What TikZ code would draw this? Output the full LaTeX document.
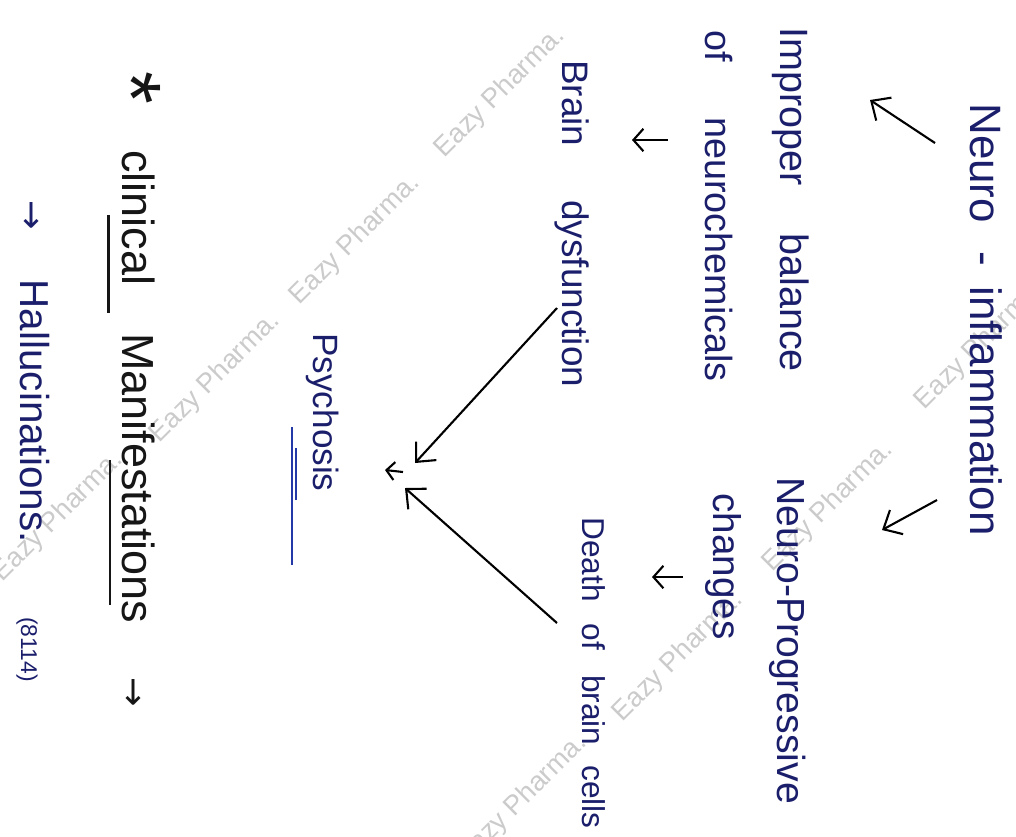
\documentclass[tikz,border=0pt]{standalone}
\usepackage{fontspec}
\setmainfont{Liberation Sans}
\newfontfamily\arrowfont{DejaVu Sans}
\usetikzlibrary{arrows.meta,calc}
\definecolor{ink}{HTML}{1B1F6B}
\definecolor{inkblack}{HTML}{161616}
\definecolor{underblue}{HTML}{2438A8}
\definecolor{stampgray}{HTML}{CBCBCB}

\begin{document}
\begin{tikzpicture}[
        x=0.02cm, y=0.02cm, rotate=-90, transform shape,
        note/.style={anchor=base west, inner sep=0pt, text=ink},
        arrow/.style={-{Straight Barb[length=3mm, width=5.5mm]}, line width=1.2pt},
        short/.style={-{Straight Barb[length=2mm, width=4.5mm]}, line width=1.2pt},
        stamp/.style={rotate=135, text=stampgray, font=\fontsize{15.5}{18}\selectfont}
    ]
    \useasboundingbox (0,0) rectangle (836,1016);
    \fill[white] (0,0) rectangle (836,1016);

    % watermark
    \foreach \u/\v in {93/500, 240/355, 378/215, 517/58, 345/980, 507/828, 657/678, 800/522}
        \node[stamp] at (\u,\v) {Eazy Pharma.};

    \node[note, font=\fontsize{25}{30}\selectfont] (infl) at (103,970) {Neuro\hspace{5.8mm}-\hspace{4mm}inflammation};
    \node[note, font=\fontsize{22.5}{27}\selectfont] (imbal) at (27,780) {Improper\hspace{9.6mm}balance};
    \node[note, font=\fontsize{21.5}{26}\selectfont] (neurochem) at (30,705) {of\hspace{11.1mm}neurochemicals};
    \node[note, font=\fontsize{22.3}{27}\selectfont] (prog) at (477,777) {Neuro-Progressive};
    \node[note, font=\fontsize{22}{27}\selectfont] (chg) at (493,713) {changes};
    \node[note, font=\fontsize{21}{25}\selectfont] (brain) at (60,562) {Brain\hspace{10.8mm}dysfunction};
    \node[note, font=\fontsize{18}{22}\selectfont] (death) at (517,582) {Death\hspace{4.4mm}of\hspace{5mm}brain\hspace{4mm}cells};
    \node[note, font=\fontsize{20}{24}\selectfont] (psych) at (333,313) {Psychosis};
    \node[inner sep=0pt, text=inkblack, font=\fontsize{48}{50}\selectfont] (star) at (88,132) {*};
    \node[note, text=inkblack, font=\fontsize{25.6}{30}\selectfont] (clin) at (150,122)
        {clinical\hspace{9.6mm}Manifestations\hspace{10.8mm}{\arrowfont\fontsize{20}{20}\selectfont →}};
    \node[note, font=\fontsize{23}{27}\selectfont] (halluc) at (200,20)
        {{\arrowfont\fontsize{20}{20}\selectfont →}\hspace{10mm}Hallucinations.};
    \node[note, font=\fontsize{13}{15}\selectfont] (date) at (617,21) {(8114)};

    % connectors
    \draw[arrow] ($(infl.base west)+(40,-35)$) -- ($(imbal.base west)+(73,90)$);
    \draw[arrow] ($(infl.base west)+(397,-33)$) -- ($(prog.base west)+(53,105)$);
    \draw[short] ($(neurochem.base west)+(110,-37)$) -- ($(brain.base west)+(80,70)$);
    \draw[short] ($(chg.base west)+(84,-30)$) -- ($(death.base west)+(60,70)$);
    \draw[arrow] ($(brain.base west)+(248,-5)$) -- ($(psych.base west)+(130,102)$);
    \draw[arrow] ($(death.base west)+(106,-25)$) -- ($(psych.base west)+(155,92)$);
    \draw[-{Straight Barb[length=1.6mm, width=3.6mm]}, line width=1.2pt]
        ($(psych.base west)+(139,90)$) -- ($(psych.base west)+(137,72)$);

    % underlines
    \draw[underblue, line width=1.4pt] ($(psych.base west)+(94,-21)$) -- ($(psych.base west)+(232,-21)$);
    \draw[underblue, line width=1.4pt] ($(psych.base west)+(115,-17)$) -- ($(psych.base west)+(167,-17)$);
    \draw[inkblack, line width=1.2pt] ($(clin.base west)+(65,-13.5)$) -- ($(clin.base west)+(163,-13.5)$);
    \draw[inkblack, line width=1.2pt] ($(clin.base west)+(310,-12)$) -- ($(clin.base west)+(455,-12)$);
\end{tikzpicture}
\end{document}
